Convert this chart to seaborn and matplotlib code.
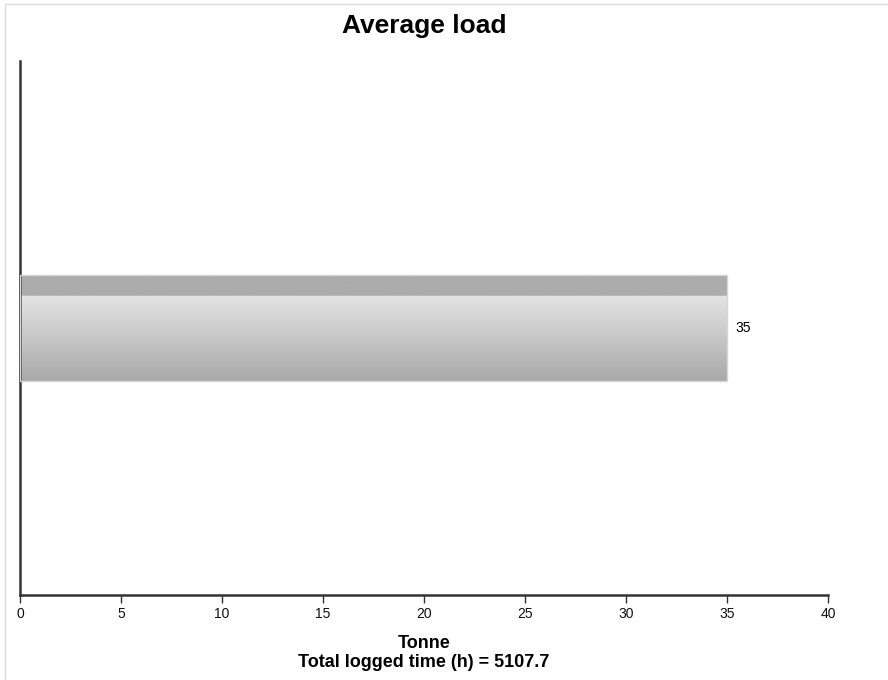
import numpy as np
import seaborn as sns
import matplotlib.pyplot as plt
from matplotlib.colors import LinearSegmentedColormap
from matplotlib.patches import Rectangle

# chart data
categories = ["Average load"]
values = [35]
x_ticks = [0, 5, 10, 15, 20, 25, 30, 35, 40]
title = "Average load"
x_label = "Tonne\nTotal logged time (h) = 5107.7"

sns.set_style("white")
plt.rcParams['font.family'] = ['Liberation Sans', 'DejaVu Sans']
plt.rcParams['text.color'] = 'black'
plt.rcParams['axes.labelcolor'] = 'black'

fig = plt.figure(figsize=(8.88, 6.8), dpi=100)
ax = fig.add_axes([20 / 888, 1 - 595 / 680, 808 / 888, 534 / 680])

sns.barplot(x=values, y=categories, orient='h', width=0.2, color='#c8c8c8', ax=ax)

# gradient fill clipped to the bar
bar = ax.patches[0]
x0, y0, w, h = bar.get_x(), bar.get_y(), bar.get_width(), bar.get_height()
grad_cmap = LinearSegmentedColormap.from_list(
    'bar', [(0, '#acacac'), (0.2, '#acacac'), (0.2001, '#e4e4e4'), (1, '#a9a9a9')])
grad = np.linspace(0, 1, 256).reshape(-1, 1)
img = ax.imshow(grad, cmap=grad_cmap, aspect='auto', origin='upper',
                extent=(x0, x0 + w, y0 + h, y0), zorder=2)
img.set_clip_path(bar)
bar.set_facecolor('none')
bar.set_edgecolor('#d6d6d6')
bar.set_linewidth(1)
bar.set_zorder(3)

ax.bar_label(ax.containers[0], padding=6, fontsize=10, color='black')

ax.set_xlim(0, 40)
ax.set_ylim(0.5, -0.5)
ax.set_xticks(x_ticks)
ax.set_xticklabels([str(t) for t in x_ticks], fontsize=10, color='#111111')
ax.set_yticks([])
ax.set_ylabel('')
ax.tick_params(axis='x', direction='out', length=6, width=1, color='#333333', pad=3, bottom=True)

for side in ['top', 'right']:
    ax.spines[side].set_visible(False)
for side in ['left', 'bottom']:
    ax.spines[side].set_color('#333333')
    ax.spines[side].set_linewidth(1.8)

ax.set_title(title, fontsize=19, fontweight='bold', pad=20, color='black')
ax.set_xlabel(x_label, fontsize=13, fontweight='bold', labelpad=10, linespacing=1.15, color='black')

# thin frame round the figure
fig.patches.append(Rectangle((5 / 888, -0.01), 1.0, 1.01 - 4 / 680, transform=fig.transFigure,
                             fill=False, edgecolor='#dddddd', linewidth=1))

plt.savefig('out.png', dpi=100)
